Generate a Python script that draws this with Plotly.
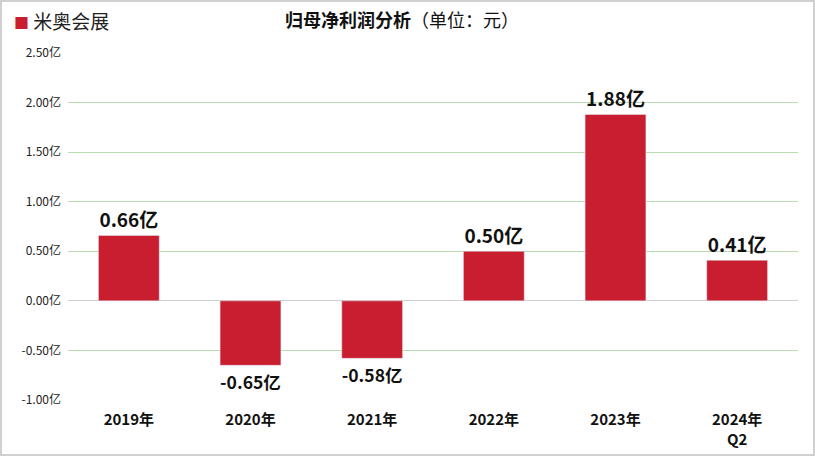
import plotly.graph_objects as go

categories = ["2019年", "2020年", "2021年", "2022年", "2023年", "2024年<br>Q2"]
profit = [0.66, -0.65, -0.58, 0.50, 1.88, 0.41]  # 亿元
y_ticks = [-1.0, -0.5, 0.0, 0.5, 1.0, 1.5, 2.0, 2.5]
y_tick_labels = [f"{v:.2f}亿" for v in y_ticks]
series_name = "米奥会展"

BAR_RED = "#C81E30"
FONT = "Noto Sans CJK SC"

fig = go.Figure()
fig.add_trace(go.Bar(
    x=categories, y=profit, name=series_name,
    marker_color=BAR_RED, width=0.5,
    texttemplate="%{y:.2f}亿", textposition="outside",
    textfont=dict(size=19, color="#111111", family=FONT, weight="bold"),
    cliponaxis=False, showlegend=False,
))

# grey frame around the whole picture
fig.add_shape(type="rect", xref="paper", yref="paper",
              x0=-67 / 730, x1=746 / 730, y0=-55 / 347, y1=399 / 347,
              line=dict(color="#D0D0D0", width=2), layer="below")

# legend drawn by hand so it does not push the margins
fig.add_annotation(
    xref="paper", yref="paper", x=-56 / 730, y=(400 - 20) / 347,
    xanchor="left", yanchor="middle", showarrow=False,
    text=f"<span style='color:{BAR_RED};font-size:15px'>■</span> {series_name}",
    font=dict(size=19, color="#222222", family=FONT),
)

fig.update_layout(
    width=815, height=457,
    margin=dict(l=68, r=17, t=53, b=57, autoexpand=False),
    paper_bgcolor="white", plot_bgcolor="white",
    font=dict(family=FONT, color="#222222"),
    title=dict(
        text="<b>归母净利润分析</b>（单位：元）",
        x=(402 - 68) / 730, xanchor="center", xref="paper",
        y=1 - 21 / 457, yanchor="middle",
        font=dict(size=18, color="#111111"),
    ),
    showlegend=False,
    bargap=0.5,
)
fig.update_xaxes(
    showgrid=False, showline=False, ticks="", automargin=False,
    tickfont=dict(size=15, color="#111111", weight="bold"),
    ticklabelstandoff=9,
)
fig.update_yaxes(
    range=[-1.0, 2.5], tickvals=y_ticks, ticktext=y_tick_labels,
    showgrid=True, gridcolor="#B7DDB0", gridwidth=1,
    zeroline=True, zerolinecolor="#D0D0D0", zerolinewidth=1,
    tickfont=dict(size=12, color="#222222"), ticks="", ticklen=0,
    showline=False, automargin=False, ticklabelstandoff=6,
)

fig.write_html("out.html", config={"displayModeBar": False},
               post_script="document.body.style.margin='0';")
